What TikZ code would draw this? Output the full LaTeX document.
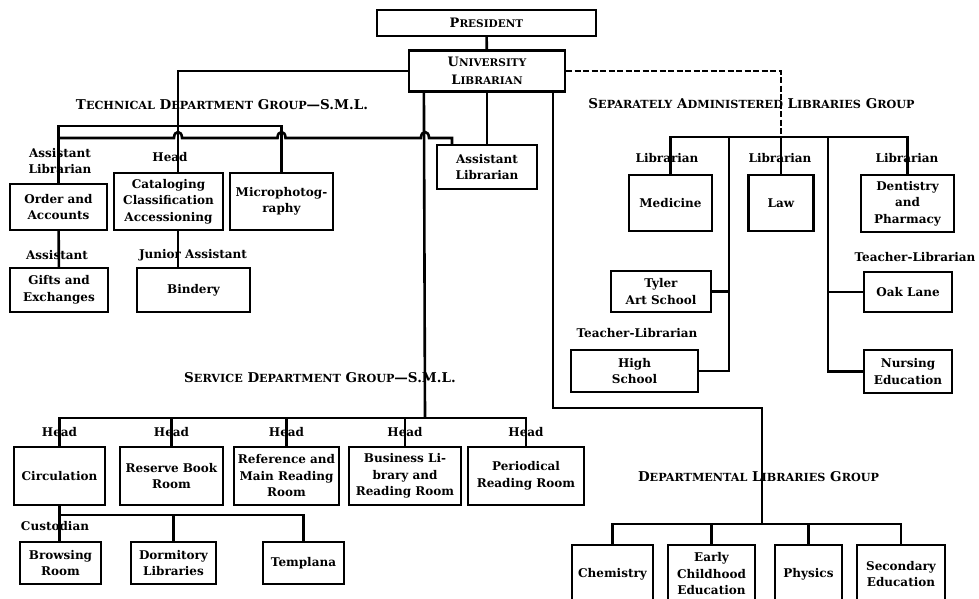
\documentclass[tikz,border=0pt]{standalone}
\usepackage{fontspec}
\setmainfont{DejaVu Serif}
\usetikzlibrary{calc}
\newcommand{\boxfont}{\bfseries\fontsize{12}{16.5}\selectfont}
\newcommand{\headfont}{\bfseries\fontsize{13}{17.5}\selectfont}
\newcommand{\capword}[2]{#1{\fontsize{10.5}{12}\selectfont #2}}
\newcommand{\titleword}[2]{#1{\fontsize{11.2}{12}\selectfont #2}}
\tikzset{
	office/.style={draw, line width=2.2pt, align=center, inner sep=1pt, font=\boxfont},
	post/.style={inner sep=0pt, align=center, font=\boxfont},
	heading/.style={inner sep=0pt, font=\bfseries\fontsize{13.5}{17.5}\selectfont},
	wire/.style={line width=2.6pt},
	staffwire/.style={wire, dash pattern=on 6pt off 2.5pt}
}
\begin{document}
\begin{tikzpicture}[x=1pt, y=-1pt]
\useasboundingbox (0,0) rectangle (979,598);

% top
\node[office, font=\headfont, minimum width=219pt, minimum height=26pt] (pres) at (486.5,23) {\capword{P}{RESIDENT}};
\node[office, font=\headfont, minimum width=156pt, minimum height=41pt] (ulib) at (487,71) {\capword{U}{NIVERSITY}\\\capword{L}{IBRARIAN}};
\node[office, minimum width=100pt, minimum height=44pt] (asstlib) at (487,167) {Assistant\\Librarian};
\draw[wire] (pres) -- (ulib);
\draw[wire] (ulib) -- (asstlib);

% technical department group
\node[heading] (techtitle) at (222,105) {\titleword{T}{ECHNICAL} \titleword{D}{EPARTMENT} \titleword{G}{ROUP}---S.M.L.};
\node[office, minimum width=97pt, minimum height=46pt] (order) at (58.5,207) {Order and\\Accounts};
\node[office, minimum width=98pt, minimum height=44pt] (gifts) at (59,290) {Gifts and\\Exchanges};
\node[office, minimum width=109pt, minimum height=57pt] (catalog) at (168.5,201.5) {Cataloging\\Classification\\Accessioning};
\node[office, minimum width=103pt, minimum height=57pt] (micro) at (281.5,201.5) {Microphotog-\\raphy};
\node[office, minimum width=113pt, minimum height=44pt] (bindery) at (193.5,290) {Bindery};

\coordinate (techbus) at (178,126);
\coordinate (asstjoin) at (452,138);
\draw[wire] (ulib.west) -| (techbus) -- (techbus |- catalog.north);
\draw[wire] (order.north) |- (techbus) -| (micro.north);
\draw[wire] (order) -- (gifts);
\draw[wire] (catalog.south -| techbus) -- (bindery.north -| techbus);
\draw[wire] (asstjoin |- asstlib.north) -- (asstjoin) -- (429,138)
	.. controls (429,130) and (421,130) .. (421,138) -- (285.5,138)
	.. controls (285.5,130) and (277.5,130) .. (277.5,138) -- (182,138)
	.. controls (182,130) and (174,130) .. (174,138) -- (order.north |- asstjoin);

\node[post] (orderpost) at (60,161) {Assistant\\Librarian};
\node[post] (catpost) at (170,157) {Head};
\node[post] (giftspost) at (57,255) {Assistant};
\node[post] (bindpost) at (193,255) {Junior Assistant};

% separately administered libraries group
\node[heading] (septitle) at (751.5,104) {\titleword{S}{EPARATELY} \titleword{A}{DMINISTERED} \titleword{L}{IBRARIES} \titleword{G}{ROUP}};
\node[office, minimum width=83pt, minimum height=56pt] (medicine) at (670.5,203) {Medicine};
\node[office, minimum width=65pt, minimum height=56pt] (law) at (781,203) {Law};
\node[office, minimum width=93pt, minimum height=57pt] (dentistry) at (907.5,203.5) {Dentistry\\and\\Pharmacy};
\node[office, minimum width=100pt, minimum height=41pt] (tyler) at (661,291.5) {Tyler\\Art School};
\node[office, minimum width=127pt, minimum height=42pt] (highsch) at (634.5,371) {High\\School};
\node[office, minimum width=88pt, minimum height=40pt] (oaklane) at (908,292) {Oak Lane};
\node[office, minimum width=88pt, minimum height=43pt] (nursing) at (908,371.5) {Nursing\\Education};

\coordinate (sepbus) at (781,137);
\coordinate (sepleft) at (729,137);
\coordinate (sepright) at (828,137);
\draw[staffwire] (ulib.east) -| (sepbus);
\draw[wire] (medicine.north) |- (sepbus) -| (dentistry.north);
\draw[wire] (sepbus) -- (law.north);
\draw[wire] (sepleft) |- (highsch.east);
\draw[wire] (tyler.east) -- (tyler.east -| sepleft);
\draw[wire] (sepright) |- (nursing.west);
\draw[wire] (oaklane.west) -- (oaklane.west -| sepright);

\node[post] (medpost) at (667,158) {Librarian};
\node[post] (lawpost) at (780,158) {Librarian};
\node[post] (dentpost) at (907,158) {Librarian};
\node[post] (highpost) at (637,333) {Teacher-Librarian};
\node[post] (oakpost) at (915,257) {Teacher-Librarian};

% service department group
\node[heading] (servtitle) at (320,378) {\titleword{S}{ERVICE} \titleword{D}{EPARTMENT} \titleword{G}{ROUP}---S.M.L.};
\node[office, minimum width=91pt, minimum height=58pt] (circ) at (59.5,476) {Circulation};
\node[office, minimum width=103pt, minimum height=58pt] (reserve) at (171.5,476) {Reserve Book\\Room};
\node[office, minimum width=105pt, minimum height=58pt] (reference) at (286.5,476) {Reference and\\Main Reading\\Room};
\node[office, minimum width=112pt, minimum height=58pt] (business) at (405,476) {Business Li-\\brary and\\Reading Room};
\node[office, minimum width=116pt, minimum height=58pt] (periodical) at (526,476) {Periodical\\Reading Room};
\node[office, minimum width=81pt, minimum height=42pt] (browsing) at (60.5,563) {Browsing\\Room};
\node[office, minimum width=85pt, minimum height=42pt] (dorm) at (173.5,563) {Dormitory\\Libraries};
\node[office, minimum width=81pt, minimum height=42pt] (templana) at (303.5,563) {Templana};

\coordinate (servbus) at (425,418);
\coordinate (circbus) at (175,515);
\draw[wire] ($(ulib.south west)+(16,0)$) -- (servbus);
\draw[wire] (circ.north) |- (servbus) -| (periodical.north);
\draw[wire] (reserve.north) -- (reserve.north |- servbus);
\draw[wire] (reference.north) -- (reference.north |- servbus);
\draw[wire] (business.north) -- (business.north |- servbus);
\draw[wire] (circ.south) -- (circ.south |- browsing.north);
\draw[wire] (circ.south |- circbus) -| (templana.north);
\draw[wire] (dorm.north) -- (dorm.north |- circbus);

\node[post] (circpost) at (circ.north |- 0,432) {Head};
\node[post] (respost) at (reserve.north |- 0,432) {Head};
\node[post] (refpost) at (reference.north |- 0,432) {Head};
\node[post] (buspost) at (business.north |- 0,432) {Head};
\node[post] (perpost) at (periodical.north |- 0,432) {Head};
\node[post] (browpost) at (55,526) {Custodian};

% departmental libraries group
\node[heading] (depttitle) at (758.5,477) {\titleword{D}{EPARTMENTAL} \titleword{L}{IBRARIES} \titleword{G}{ROUP}};
\node[office, minimum width=81pt, minimum height=58pt] (chem) at (612.5,574) {Chemistry};
\node[office, minimum width=87pt, minimum height=58pt] (early) at (711.5,574) {Early\\Childhood\\Education};
\node[office, minimum width=67pt, minimum height=58pt] (physics) at (808.5,574) {Physics};
\node[office, minimum width=88pt, minimum height=58pt] (secondary) at (901,574) {Secondary\\Education};

\coordinate (deptturn) at (762,408);
\coordinate (deptbus) at (762,524);
\draw[wire] ($(ulib.south east)+(-13,0)$) |- (deptturn) -- (deptbus);
\draw[wire] (chem.north) |- (deptbus) -| (secondary.north);
\draw[wire] (early.north) -- (early.north |- deptbus);
\draw[wire] (physics.north) -- (physics.north |- deptbus);
\end{tikzpicture}
\end{document}
